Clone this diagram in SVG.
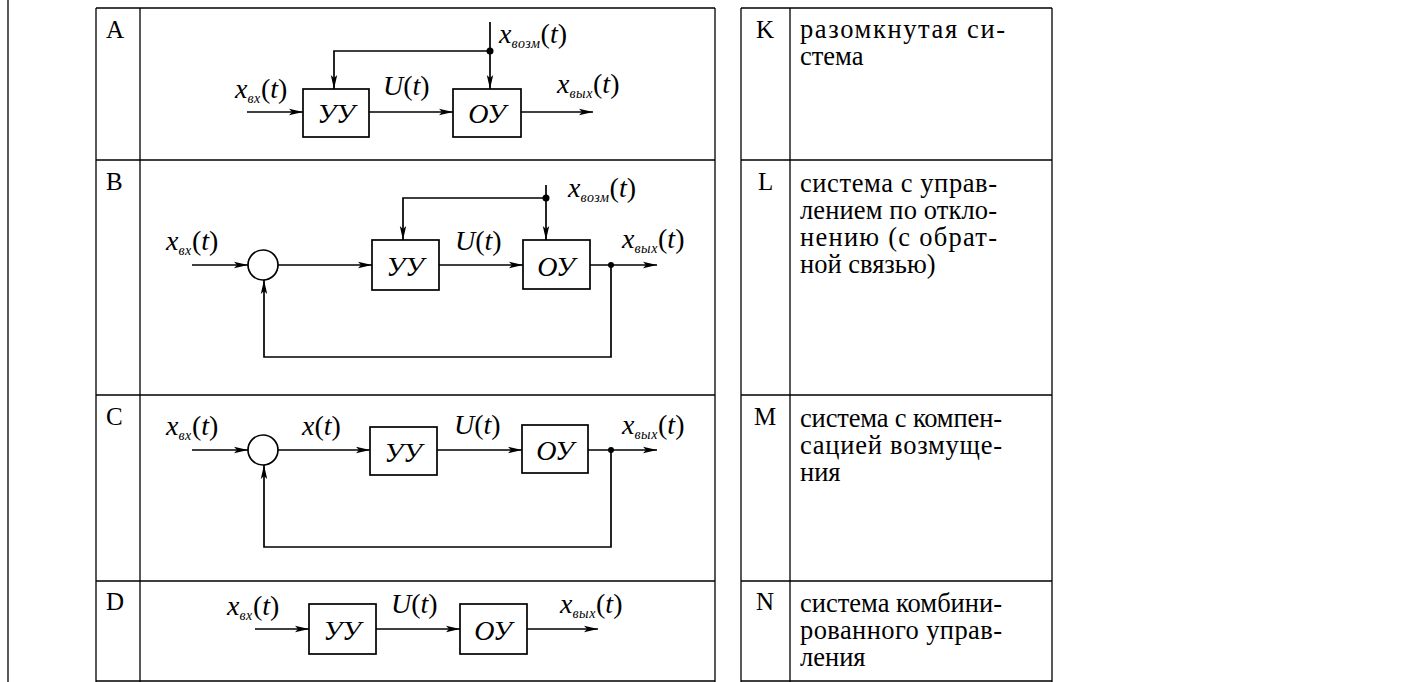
<svg xmlns="http://www.w3.org/2000/svg" width="1411" height="682" viewBox="0 0 1411 682">
<style>
.tb{stroke:#000;stroke-width:1.3;fill:none}
.ln{stroke:#000;stroke-width:1.7;fill:none}
.bx{stroke:#000;stroke-width:1.7;fill:#fff}
.arr{marker-end:url(#ah)}
.let{font-family:'Liberation Serif','Times New Roman','DejaVu Serif',serif;font-size:25px;fill:#000}
.txt{font-family:'Liberation Serif','Times New Roman','DejaVu Serif',serif;font-size:26.5px;fill:#000}
.lab{font-family:'Liberation Serif','Times New Roman','DejaVu Serif',serif;font-size:28px;fill:#000}
.it{font-style:italic}
.sub{font-style:italic;font-size:14px;letter-spacing:0.6px}
.bl{font-family:'Liberation Serif','Times New Roman','DejaVu Serif',serif;font-size:28px;font-style:italic;fill:#000}
</style>
<defs>
<marker id="ah" viewBox="0 0 14 8" refX="14" refY="4" markerWidth="14" markerHeight="8" markerUnits="userSpaceOnUse" orient="auto">
<path d="M0,0.8 L14,4 L0,7.2 L3,4 z" fill="#000"/>
</marker>
</defs>
<rect x="0" y="0" width="1411" height="682" fill="#fff"/>
<line x1="8" y1="0" x2="8" y2="682" class="tb"/>
<g id="table-left">
<path class="tb" d="M96,8 H715 M96,160 H715 M96,395 H715 M96,581 H715 M96,681 H715 M96,8 V682 M140,8 V682 M715,8 V682"/>
<text class="let" x="106" y="38">A</text>
<text class="let" x="106" y="190">B</text>
<text class="let" x="106" y="425">C</text>
<text class="let" x="106" y="610">D</text>
</g>
<g id="table-right">
<path class="tb" d="M741,8 H1052 M741,160 H1052 M741,395 H1052 M741,581 H1052 M741,681 H1052 M741,8 V682 M790,8 V682 M1052,8 V682"/>
<text class="let" x="756" y="38">K</text>
<text class="let" x="758" y="190">L</text>
<text class="let" x="754" y="425">M</text>
<text class="let" x="756" y="610">N</text>
<text class="txt" x="800" y="38" textLength="205" lengthAdjust="spacing">разомкнутая си-</text>
<text class="txt" x="800" y="65">стема</text>
<text class="txt" x="800" y="192" textLength="197" lengthAdjust="spacing">система с управ-</text>
<text class="txt" x="800" y="219" textLength="197" lengthAdjust="spacing">лением по откло-</text>
<text class="txt" x="800" y="246" textLength="197" lengthAdjust="spacing">нению (с обрат-</text>
<text class="txt" x="800" y="273">ной связью)</text>
<text class="txt" x="800" y="427" textLength="202" lengthAdjust="spacing">система с компен-</text>
<text class="txt" x="800" y="454" textLength="202" lengthAdjust="spacing">сацией возмуще-</text>
<text class="txt" x="800" y="481">ния</text>
<text class="txt" x="800" y="612" textLength="202" lengthAdjust="spacing">система комбини-</text>
<text class="txt" x="800" y="639" textLength="202" lengthAdjust="spacing">рованного управ-</text>
<text class="txt" x="800" y="666">ления</text>
</g>
<!-- Panel A -->
<g id="A-uu"><rect class="bx" x="303" y="89" width="66" height="48"/><text class="bl" x="336" y="123" text-anchor="middle">УУ</text></g>
<g id="A-ou"><rect class="bx" x="453" y="89" width="68" height="48"/><text class="bl" x="487" y="123" text-anchor="middle">ОУ</text></g>
<g id="A-labels" class="lab">
<text x="235" y="98"><tspan class="it">x</tspan><tspan class="sub" dy="5">вх</tspan><tspan dy="-5">(</tspan><tspan class="it">t</tspan>)</text>
<text x="383" y="95"><tspan class="it">U</tspan>(<tspan class="it">t</tspan>)</text>
<text x="499" y="43"><tspan class="it">x</tspan><tspan class="sub" dy="5">возм</tspan><tspan dy="-5">(</tspan><tspan class="it">t</tspan>)</text>
<text x="557" y="93"><tspan class="it">x</tspan><tspan class="sub" dy="5">вых</tspan><tspan dy="-5">(</tspan><tspan class="it">t</tspan>)</text>
</g>
<!-- Panel B -->
<g id="B-sum"><circle class="bx" cx="263" cy="265" r="15"/></g>
<g id="B-uu"><rect class="bx" x="372" y="240" width="67" height="50"/><text class="bl" x="405" y="276" text-anchor="middle">УУ</text></g>
<g id="B-ou"><rect class="bx" x="523" y="240" width="67" height="49"/><text class="bl" x="556" y="276" text-anchor="middle">ОУ</text></g>
<g id="B-labels" class="lab">
<text x="166" y="250"><tspan class="it">x</tspan><tspan class="sub" dy="5">вх</tspan><tspan dy="-5">(</tspan><tspan class="it">t</tspan>)</text>
<text x="455" y="250"><tspan class="it">U</tspan>(<tspan class="it">t</tspan>)</text>
<text x="568" y="197"><tspan class="it">x</tspan><tspan class="sub" dy="5">возм</tspan><tspan dy="-5">(</tspan><tspan class="it">t</tspan>)</text>
<text x="622" y="248"><tspan class="it">x</tspan><tspan class="sub" dy="5">вых</tspan><tspan dy="-5">(</tspan><tspan class="it">t</tspan>)</text>
</g>
<!-- Panel C -->
<g id="C-sum"><circle class="bx" cx="263" cy="450" r="15"/></g>
<g id="C-uu"><rect class="bx" x="370" y="427" width="67" height="48"/><text class="bl" x="403" y="462" text-anchor="middle">УУ</text></g>
<g id="C-ou"><rect class="bx" x="522" y="425" width="66" height="48"/><text class="bl" x="555" y="460" text-anchor="middle">ОУ</text></g>
<g id="C-labels" class="lab">
<text x="166" y="435"><tspan class="it">x</tspan><tspan class="sub" dy="5">вх</tspan><tspan dy="-5">(</tspan><tspan class="it">t</tspan>)</text>
<text x="302" y="435"><tspan class="it">x</tspan>(<tspan class="it">t</tspan>)</text>
<text x="454" y="434"><tspan class="it">U</tspan>(<tspan class="it">t</tspan>)</text>
<text x="622" y="434"><tspan class="it">x</tspan><tspan class="sub" dy="5">вых</tspan><tspan dy="-5">(</tspan><tspan class="it">t</tspan>)</text>
</g>
<!-- Panel D -->
<g id="D-uu"><rect class="bx" x="309" y="604" width="67" height="50"/><text class="bl" x="342" y="640" text-anchor="middle">УУ</text></g>
<g id="D-ou"><rect class="bx" x="460" y="604" width="67" height="50"/><text class="bl" x="493" y="640" text-anchor="middle">ОУ</text></g>
<g id="D-labels" class="lab">
<text x="227" y="615"><tspan class="it">x</tspan><tspan class="sub" dy="5">вх</tspan><tspan dy="-5">(</tspan><tspan class="it">t</tspan>)</text>
<text x="391" y="613"><tspan class="it">U</tspan>(<tspan class="it">t</tspan>)</text>
<text x="560" y="613"><tspan class="it">x</tspan><tspan class="sub" dy="5">вых</tspan><tspan dy="-5">(</tspan><tspan class="it">t</tspan>)</text>
</g>
<g id="connectors">
<line class="ln arr" x1="247" y1="112" x2="303" y2="112"/>
<line class="ln arr" x1="369" y1="112" x2="453" y2="112"/>
<line class="ln arr" x1="521" y1="112" x2="593" y2="112"/>
<line class="ln arr" x1="490" y1="22" x2="490" y2="89"/>
<path class="ln arr" d="M490,51 H334 V89"/>
<circle cx="490" cy="51" r="3.5" fill="#000"/>
<line class="ln arr" x1="192" y1="265" x2="248" y2="265"/>
<line class="ln arr" x1="278" y1="265" x2="372" y2="265"/>
<line class="ln arr" x1="439" y1="265" x2="523" y2="265"/>
<line class="ln arr" x1="590" y1="265" x2="657" y2="265"/>
<path class="ln arr" d="M611,265 V357 H264 V280"/>
<circle cx="611" cy="265" r="3" fill="#000"/>
<line class="ln arr" x1="546" y1="185" x2="546" y2="240"/>
<path class="ln arr" d="M546,198 H403 V240"/>
<circle cx="546" cy="198" r="3.5" fill="#000"/>
<line class="ln arr" x1="192" y1="450" x2="248" y2="450"/>
<line class="ln arr" x1="278" y1="450" x2="370" y2="450"/>
<line class="ln arr" x1="437" y1="450" x2="522" y2="450"/>
<line class="ln arr" x1="588" y1="450" x2="657" y2="450"/>
<path class="ln arr" d="M611,450 V547 H264 V465"/>
<circle cx="611" cy="450" r="3" fill="#000"/>
<line class="ln arr" x1="255" y1="629" x2="309" y2="629"/>
<line class="ln arr" x1="376" y1="629" x2="460" y2="629"/>
<line class="ln arr" x1="527" y1="629" x2="598" y2="629"/>
</g>
</svg>
